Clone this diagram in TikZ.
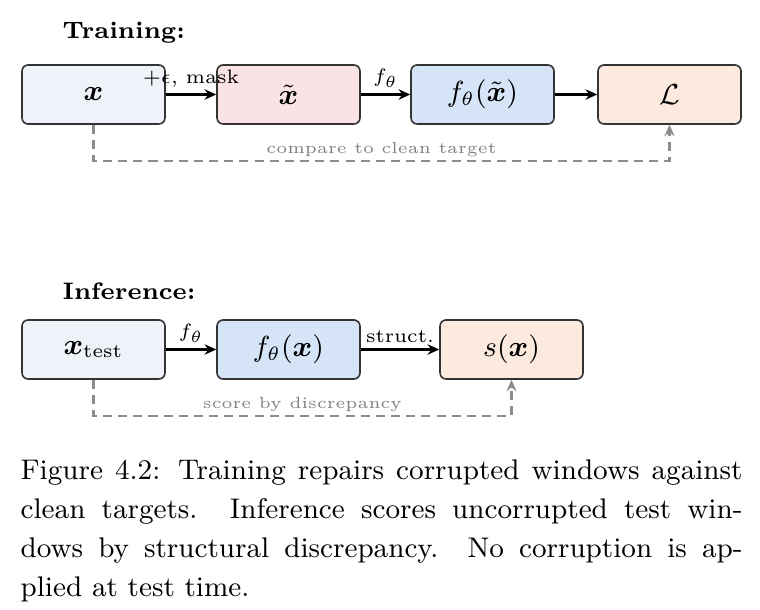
\documentclass[tikz,border=0pt]{standalone}
\usepackage{amsmath, amssymb}
\usepackage{tikz}
\usetikzlibrary{arrows.meta, positioning}
\definecolor{inbox}{RGB}{239,243,249}
\definecolor{corrbox}{RGB}{250,227,228}
\definecolor{modelbox}{RGB}{214,228,248}
\definecolor{lossbox}{RGB}{252,234,222}
\tikzset{
  block/.style={draw=black!80, line width=0.5pt, rounded corners=1.9pt,
    minimum width=44.3pt, minimum height=18.3pt, inner sep=0pt, font=\small},
  fwd/.style={-{Stealth[length=3.6pt, width=3.2pt]}, line width=0.75pt},
  feedback/.style={-{Stealth[length=3.5pt, width=3.1pt]}, gray!90,
    dash pattern=on 2.8pt off 1.9pt, line width=0.7pt},
  fwdlabel/.style={font={\fontsize{6}{7}\selectfont}, above, inner sep=1.8pt},
  fblabel/.style={font=\tiny, gray, above, inner sep=1pt},
  stage/.style={font={\fontsize{7.4}{9}\selectfont\bfseries}, anchor=west, inner sep=0pt}
}

\begin{document}
\begin{tikzpicture}[x=0.31pt, y=-0.31pt]
  \useasboundingbox (0,0) rectangle (760,610);
  % --- training: corrupt, repair, compare ---
  \node[stage] (trainhd) at (62,33) {Training:};
  \node[block, fill=inbox]    (xa)   at (93.5,94.5)  {$\boldsymbol{x}$};
  \node[block, fill=corrbox]  (xc)   at (288.5,94.5) {$\tilde{\boldsymbol{x}}$};
  \node[block, fill=modelbox] (rec)  at (482.5,94.5) {$f_\theta(\tilde{\boldsymbol{x}})$};
  \node[block, fill=lossbox]  (loss) at (669.5,94.5) {$\mathcal{L}$};
  \draw[fwd] (xa) -- node[fwdlabel] {$+\epsilon$, mask} (xc);
  \draw[fwd] (xc) -- node[fwdlabel] {$f_\theta$} (rec);
  \draw[fwd] (rec) -- (loss);
  \draw[feedback] (xa.south) -- ++(0,36) -| node[pos=0.25, fblabel] {compare to clean target} (loss.south);
  % --- inference: no corruption ---
  \node[stage] (inferhd) at (62,291) {Inference:};
  \node[block, fill=inbox]    (xt)    at (93.5,349.5)  {$\boldsymbol{x}_{\text{test}}$};
  \node[block, fill=modelbox] (pred)  at (288.5,349.5) {$f_\theta(\boldsymbol{x})$};
  \node[block, fill=lossbox]  (score) at (511.5,349.5) {$s(\boldsymbol{x})$};
  \draw[fwd] (xt) -- node[fwdlabel] {$f_\theta$} (pred);
  \draw[fwd] (pred) -- node[fwdlabel] {struct.} (score);
  \draw[feedback] (xt.south) -- ++(0,36) -| node[pos=0.25, fblabel] {score by discrepancy} (score.south);
  % --- caption ---
  \node[anchor=north west, inner sep=0pt, text width=223.8pt, align=justify,
        font={\fontsize{8.8}{12.1}\selectfont}] (caption) at (20,459)
    {Figure 4.2: Training repairs corrupted windows against\linebreak clean targets.  Inference scores uncorrupted test win-\linebreak dows by structural discrepancy.  No corruption is ap-\linebreak plied at test time.};
\end{tikzpicture}
\end{document}
